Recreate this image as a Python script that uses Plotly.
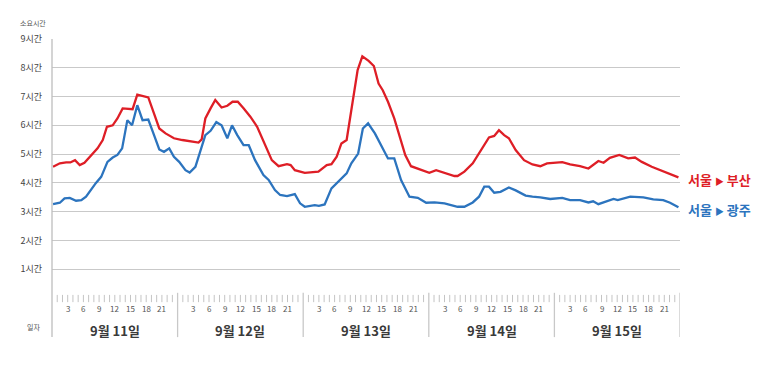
import plotly.graph_objects as go

# ---- data (hours since 9/11 00:00, travel time in hours) ----
busan_hours = [0.2, 1.5, 2.7, 3.5, 4.4, 5.3, 6.2, 7.5, 8.7, 9.7, 10.5, 11.6, 12.5, 13.5, 15.4, 16.3, 18.4, 19.5,
               20.5, 21.7, 23.3, 24.9, 27.4, 28.0, 28.6, 29.3, 30.3, 31.2, 32.4, 33.5, 34.5, 35.5, 36.6, 37.9,
               39.2, 40.4, 42.0, 43.3, 44.9, 45.6, 46.4, 48.3, 50.9, 52.5, 53.4, 54.4, 55.3, 56.3, 56.9, 57.5,
               58.4, 59.3, 60.5, 61.5, 62.4, 63.2, 64.2, 65.4, 66.4, 67.5, 68.6, 69.9, 72.1, 73.4, 75.0, 76.9,
               77.5, 78.8, 80.4, 81.9, 83.5, 84.5, 85.4, 86.4, 87.3, 88.6, 90.2, 91.8, 93.3, 94.6, 97.5, 99.0,
               100.9, 102.5, 104.4, 105.4, 106.6, 108.4, 110.1, 111.4, 112.7, 114.6, 116.2, 118.1, 119.7]
busan_vals = [4.56, 4.68, 4.71, 4.71, 4.79, 4.62, 4.70, 4.97, 5.20, 5.49, 5.95, 6.00, 6.24, 6.59, 6.56, 7.07, 6.97, 6.41,
              5.89, 5.72, 5.55, 5.49, 5.43, 5.40, 5.51, 6.24, 6.59, 6.88, 6.62, 6.68, 6.82, 6.82, 6.59, 6.30,
              5.95, 5.43, 4.79, 4.58, 4.65, 4.62, 4.44, 4.35, 4.39, 4.62, 4.65, 4.91, 5.37, 5.49, 6.18, 6.88,
              7.92, 8.40, 8.24, 8.06, 7.45, 7.22, 6.82, 6.24, 5.60, 4.97, 4.58, 4.50, 4.35, 4.44, 4.36, 4.24,
              4.24, 4.39, 4.68, 5.14, 5.58, 5.63, 5.83, 5.66, 5.55, 5.14, 4.79, 4.64, 4.58, 4.68, 4.72, 4.64,
              4.58, 4.50, 4.76, 4.70, 4.87, 4.97, 4.85, 4.88, 4.73, 4.56, 4.44, 4.31, 4.19]

gwangju_hours = [0.2, 1.5, 2.4, 3.4, 4.6, 5.6, 6.5, 7.8, 8.4, 9.4, 10.6, 11.6, 12.5, 13.4, 14.4, 15.3, 16.3, 17.3,
                 18.4, 19.5, 20.5, 21.4, 22.4, 23.3, 24.3, 25.5, 26.3, 27.4, 28.4, 29.3, 30.3, 31.4, 32.4, 33.5,
                 34.4, 35.4, 36.6, 37.6, 38.8, 40.4, 41.4, 42.6, 43.6, 44.9, 46.4, 47.4, 48.3, 50.2, 51.0, 52.1,
                 53.4, 54.7, 56.3, 57.2, 58.5, 59.4, 60.4, 61.7, 62.9, 64.2, 65.4, 66.7, 68.3, 69.9, 71.5, 73.1,
                 75.0, 76.2, 77.5, 78.8, 80.4, 81.6, 82.6, 83.5, 84.5, 85.7, 87.3, 88.6, 90.5, 91.8, 93.3, 95.2,
                 97.5, 99.0, 100.9, 102.5, 103.4, 104.4, 106.0, 107.3, 108.1, 110.5, 113.0, 114.9, 116.8, 118.1, 119.7]
gwangju_vals = [3.26, 3.31, 3.46, 3.48, 3.38, 3.40, 3.52, 3.87, 4.00, 4.21, 4.73, 4.88, 4.97, 5.20, 6.18, 6.00, 6.70, 6.18,
                6.20, 5.66, 5.16, 5.08, 5.20, 4.91, 4.73, 4.44, 4.36, 4.56, 5.14, 5.66, 5.81, 6.11, 6.00, 5.55,
                6.00, 5.66, 5.31, 5.31, 4.79, 4.27, 4.10, 3.75, 3.58, 3.54, 3.61, 3.29, 3.17, 3.23, 3.20, 3.25,
                3.81, 4.04, 4.33, 4.68, 5.02, 5.89, 6.07, 5.72, 5.31, 4.85, 4.85, 4.10, 3.52, 3.48, 3.31, 3.32,
                3.29, 3.23, 3.17, 3.17, 3.32, 3.52, 3.87, 3.87, 3.66, 3.69, 3.84, 3.74, 3.56, 3.52, 3.50, 3.44,
                3.48, 3.40, 3.40, 3.32, 3.36, 3.26, 3.37, 3.44, 3.40, 3.52, 3.50, 3.43, 3.40, 3.31, 3.15]

y_tick_vals = [1, 2, 3, 4, 5, 6, 7, 8, 9]
y_tick_text = ["1시간", "2시간", "3시간", "4시간", "5시간", "6시간", "7시간", "8시간", "9시간"]
hour_labels = ["3", "6", "9", "12", "15", "18", "21"]
day_labels = ["9월 11일", "9월 12일", "9월 13일", "9월 14일", "9월 15일"]

RED = "rgb(222,30,38)"
BLUE = "rgb(44,116,190)"
GRID = "#c9c9c9"
FONT = "Noto Sans CJK KR"

fig = go.Figure()
fig.add_trace(go.Scatter(x=busan_hours, y=busan_vals, mode="lines",
                         line=dict(color=RED, width=2.3), hoverinfo="skip"))
fig.add_trace(go.Scatter(x=gwangju_hours, y=gwangju_vals, mode="lines",
                         line=dict(color=BLUE, width=2.3), hoverinfo="skip"))

shapes = []
annotations = []
n_days = len(day_labels)
# left axis line
shapes.append(dict(type="line", xref="paper", yref="paper", x0=0, x1=0, y0=1, y1=-0.151,
                   line=dict(color="#bdbdbd", width=1.3)))
# day separators
for d in range(1, n_days + 1):
    shapes.append(dict(type="line", xref="x", yref="paper", x0=24 * d, x1=24 * d, y0=0.02, y1=-0.151,
                       line=dict(color="#c8c8c8", width=1.3)))
# hourly ticks
for d in range(n_days):
    for h in range(1, 24):
        shapes.append(dict(type="line", xref="x", yref="paper", x0=24 * d + h, x1=24 * d + h,
                           y0=0.012, y1=-0.016, line=dict(color="#c4c4c4", width=1)))
# hour labels and day labels
for d in range(n_days):
    for lab in hour_labels:
        annotations.append(dict(x=24 * d + int(lab), y=-0.039, xref="x", yref="paper", text=lab,
                                showarrow=False, font=dict(family=FONT, size=8, color="#555555"),
                                xanchor="center", yanchor="middle"))
    annotations.append(dict(x=24 * d + 12, y=-0.124, xref="x", yref="paper", text="<b>" + day_labels[d] + "</b>",
                            showarrow=False, font=dict(family=FONT, size=13, color="#3a3a3a"),
                            xanchor="center", yanchor="middle"))

annotations.append(dict(x=-0.029, y=-0.112, xref="paper", yref="paper", text="일자", showarrow=False,
                        font=dict(family=FONT, size=7, color="#555555"), xanchor="center", yanchor="middle"))
annotations.append(dict(x=-0.031, y=1.062, xref="paper", yref="paper", text="소요시간", showarrow=False,
                        font=dict(family=FONT, size=7, color="#555555"), xanchor="center", yanchor="middle"))
annotations.append(dict(x=1.01, y=0.456, xref="paper", yref="paper",
                        text="<b>서울 <span style='font-size:9px'>▶</span> 부산</b>", showarrow=False,
                        font=dict(family=FONT, size=13, color=RED), xanchor="left", yanchor="middle"))
annotations.append(dict(x=1.01, y=0.340, xref="paper", yref="paper",
                        text="<b>서울 <span style='font-size:9px'>▶</span> 광주</b>", showarrow=False,
                        font=dict(family=FONT, size=13, color=BLUE), xanchor="left", yanchor="middle"))

# the page body adds an 8px offset, so the figure is drawn 8px smaller with margins reduced accordingly
fig.update_layout(
    width=760, height=357,
    margin=dict(l=41, r=88, t=31, b=67),
    paper_bgcolor="white", plot_bgcolor="white",
    showlegend=False,
    shapes=shapes, annotations=annotations,
    xaxis=dict(range=[0, 120], showgrid=False, zeroline=False, showticklabels=False, showline=False,
               fixedrange=True),
    yaxis=dict(range=[0, 9], tickvals=y_tick_vals, ticktext=y_tick_text, showgrid=True, gridcolor=GRID,
               gridwidth=1.3, zeroline=False, showline=False, ticks="", ticklabelstandoff=9,
               tickfont=dict(family=FONT, size=9, color="#444444"), fixedrange=True),
)

fig.write_html("out.html")
